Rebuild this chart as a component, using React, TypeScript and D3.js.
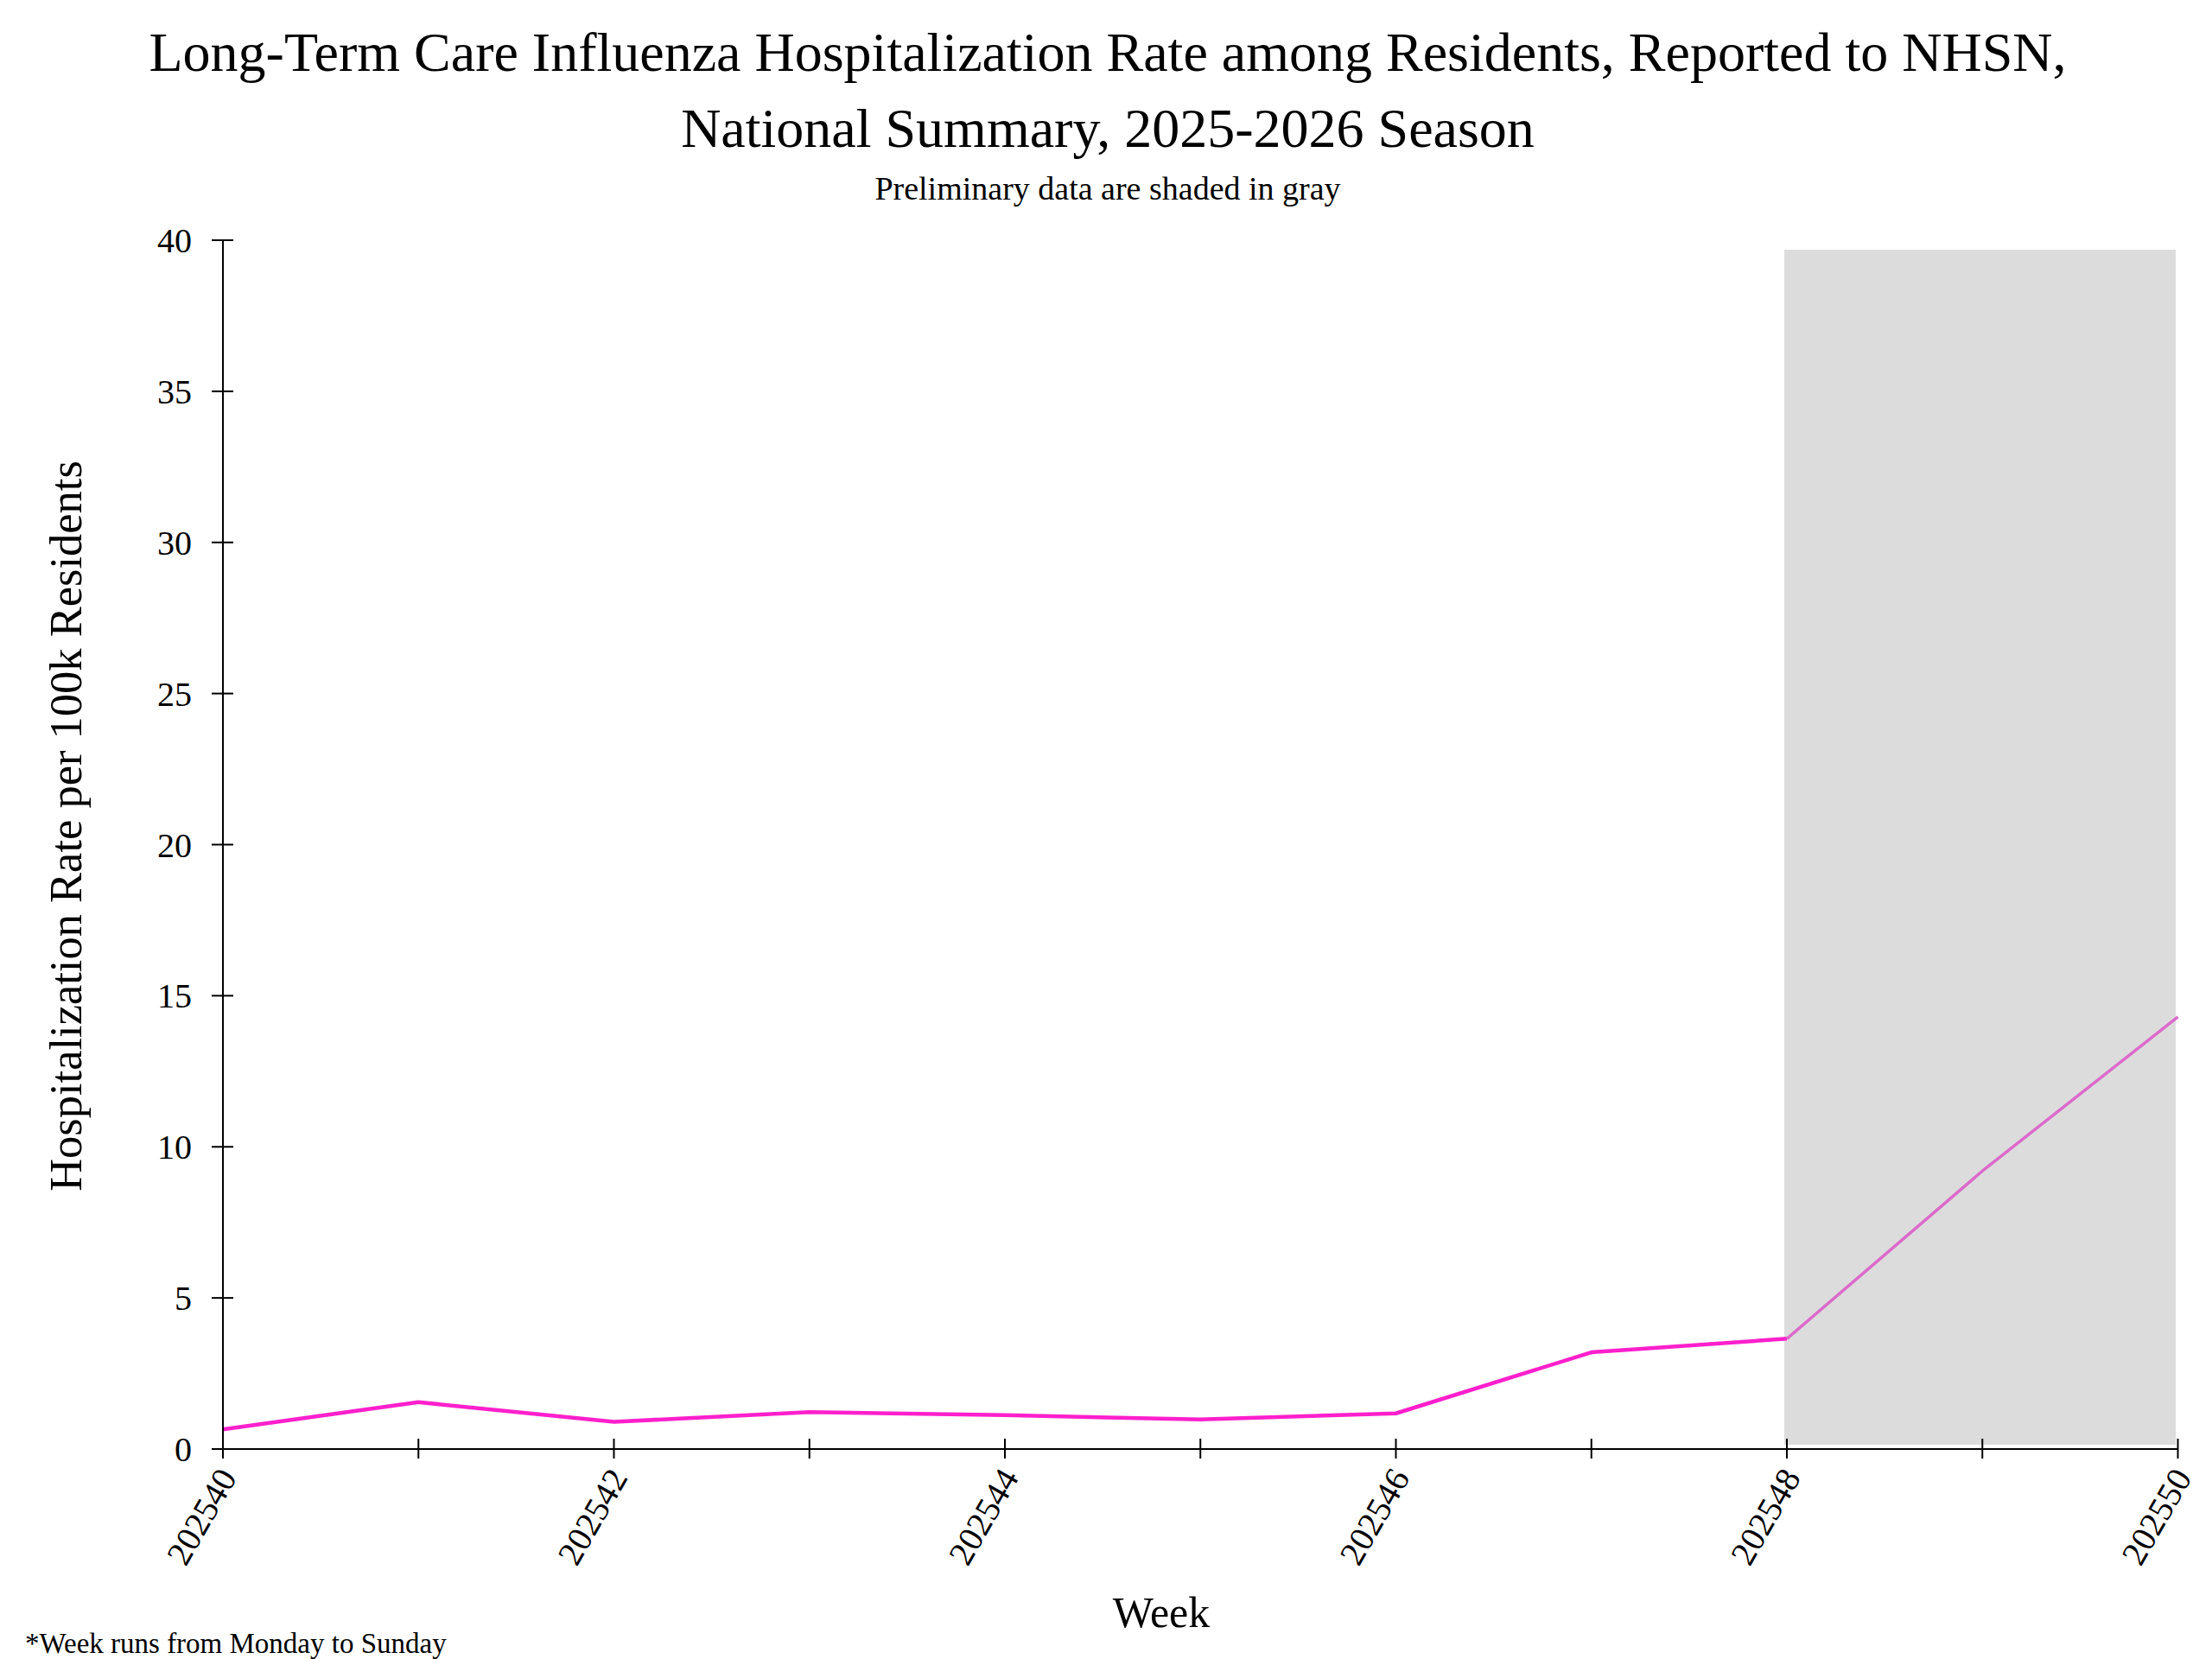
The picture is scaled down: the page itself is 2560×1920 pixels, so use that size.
import React from "react";
import * as d3 from "d3";

const weeks = ["202540","202541","202542","202543","202544","202545","202546","202547","202548","202549","202550"];
const rates = [0.65, 1.55, 0.9, 1.22, 1.12, 0.98, 1.18, 3.2, 3.65, 9.2, 14.3];
const yTicks = [0, 5, 10, 15, 20, 25, 30, 35, 40];
const xLabelWeeks = ["202540","202542","202544","202546","202548","202550"];
const preliminaryStart = "202548";
const titleLines = [
  "Long-Term Care Influenza Hospitalization Rate among Residents, Reported to NHSN,",
  "National Summary, 2025-2026 Season",
];
const subtitle = "Preliminary data are shaded in gray";

export default function App() {
  const W = 2560, H = 1920;
  const left = 258, right = 2520.5, top = 278, bottom = 1677;
  const x = d3.scalePoint<string>().domain(weeks).range([left, right]);
  const y = d3.scaleLinear().domain([0, 40]).range([bottom, top]);
  const data = weeks.map((w, i) => ({ w, v: rates[i] }));
  const pIdx = weeks.indexOf(preliminaryStart);
  const line = d3.line<{ w: string; v: number }>().x(d => x(d.w)!).y(d => y(d.v));
  const font = "'Liberation Serif', 'Times New Roman', serif";
  const x0 = x(preliminaryStart)!;
  return (
    <svg width={W} height={H} style={{ display: "block", position: "absolute", left: 0, top: 0, background: "#fff" }} fontFamily={font}>
      <rect x={0} y={0} width={W} height={H} fill="#fff" />
      {titleLines.map((t, i) => (
        <text key={i} x={1282} y={82 + i * 88} textAnchor="middle" fontSize={64} fill="#000">{t}</text>
      ))}
      <text x={1282} y={231} textAnchor="middle" fontSize={38} fill="#000">{subtitle}</text>
      <rect x={x0 - 3} y={289} width={right - 2.5 - (x0 - 3)} height={1672 - 289} fill="#dcdcdc" />
      <path d={line(data.slice(0, pIdx + 1)) || ""} fill="none" stroke="#ff1fcc" strokeWidth={4.5} strokeLinejoin="round" />
      <path d={line(data.slice(pIdx)) || ""} fill="none" stroke="#dc6acb" strokeWidth={3.5} strokeLinejoin="round" />
      {/* y axis */}
      <line x1={left} x2={left} y1={top} y2={bottom} stroke="#000" strokeWidth={2} />
      {yTicks.map(t => (
        <g key={t}>
          <line x1={left - 13} x2={left + 12} y1={y(t)} y2={y(t)} stroke="#000" strokeWidth={2} />
          <text x={222} y={y(t)} dy="0.35em" textAnchor="end" fontSize={40} fill="#000">{t}</text>
        </g>
      ))}
      {/* x axis */}
      <line x1={left} x2={right} y1={bottom} y2={bottom} stroke="#000" strokeWidth={2} />
      {weeks.map(w => (
        <line key={w} x1={x(w)} x2={x(w)} y1={bottom - 12} y2={bottom + 11} stroke="#000" strokeWidth={2} />
      ))}
      {xLabelWeeks.map(w => (
        <text key={w} transform={`translate(${x(w)! + 5},${bottom + 26}) rotate(-60)`} textAnchor="end" fontSize={40} dy="0.35em" fill="#000">{w}</text>
      ))}
      <text transform={`translate(94,956) rotate(-90)`} textAnchor="middle" fontSize={52.5} fill="#000">Hospitalization Rate per 100k Residents</text>
      <text x={1344} y={1883} textAnchor="middle" fontSize={50} fill="#000">Week</text>
      <text x={29} y={1913} fontSize={33} fill="#000">*Week runs from Monday to Sunday</text>
    </svg>
  );
}
